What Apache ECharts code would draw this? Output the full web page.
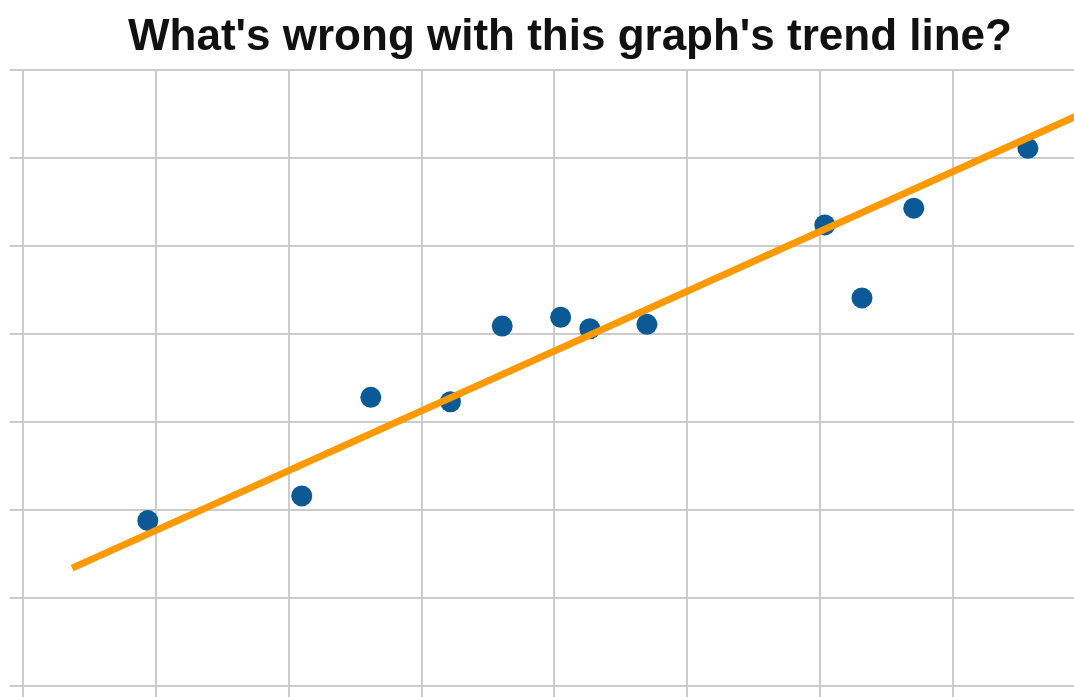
<!DOCTYPE html>
<html>
<head>
<meta charset="utf-8">
<script src="https://cdn.jsdelivr.net/npm/echarts@6/dist/echarts.min.js"></script>
<style>
html,body{margin:0;padding:0;background:#fff;}
#chart{width:1074px;height:697px;}
</style>
</head>
<body>
<div id="chart"></div>
<script>
var titleText = "What's wrong with this graph's trend line?";
var pointsX = [0.94, 2.10, 2.62, 3.22, 3.61, 4.05, 4.27, 4.70, 6.04, 6.32, 6.71, 7.57];
var pointsY = [1.88, 2.16, 3.28, 3.23, 4.09, 4.19, 4.06, 4.11, 5.24, 4.41, 5.43, 6.11];
var trendX = [0.37, 8.0];
var trendY = [1.34, 6.52];

var scatterData = pointsX.map(function (x, i) { return [x, pointsY[i]]; });
var trendData = trendX.map(function (x, i) { return [x, trendY[i]]; });

var gridColor = '#cccccc';
var chart = echarts.init(document.getElementById('chart'), null, {renderer: 'canvas'});
chart.setOption({
  animation: false,
  backgroundColor: '#ffffff',
  title: {
    text: titleText,
    left: 565,
    textAlign: 'center',
    top: 11,
    textStyle: {
      fontFamily: 'Liberation Sans, Arial, sans-serif',
      fontWeight: 'bold',
      fontSize: 44,
      color: '#111111'
    }
  },
  grid: {left: 23, top: 70, width: 1062, bottom: 11, containLabel: false, outerBoundsMode: 'none'},
  xAxis: {
    type: 'value', min: 0, max: 8, interval: 1,
    axisLine: {show: true, lineStyle: {color: gridColor, width: 2}},
    axisTick: {show: true, length: 12, lineStyle: {color: gridColor, width: 2}},
    axisLabel: {show: false},
    splitLine: {show: true, lineStyle: {color: gridColor, width: 2}}
  },
  yAxis: {
    type: 'value', min: 0, max: 7, interval: 1,
    axisLine: {show: true, lineStyle: {color: gridColor, width: 2}},
    axisTick: {show: true, length: 13, lineStyle: {color: gridColor, width: 2}},
    axisLabel: {show: false},
    splitLine: {show: true, lineStyle: {color: gridColor, width: 2}}
  },
  series: [
    {
      type: 'scatter',
      data: scatterData,
      symbolSize: 21,
      itemStyle: {color: '#0b5a96', opacity: 1},
      z: 3
    },
    {
      type: 'line',
      data: trendData,
      showSymbol: false,
      symbol: 'none',
      clip: true,
      lineStyle: {color: '#ff9900', width: 7, cap: 'butt'},
      z: 4
    }
  ]
});
</script>
</body>
</html>
